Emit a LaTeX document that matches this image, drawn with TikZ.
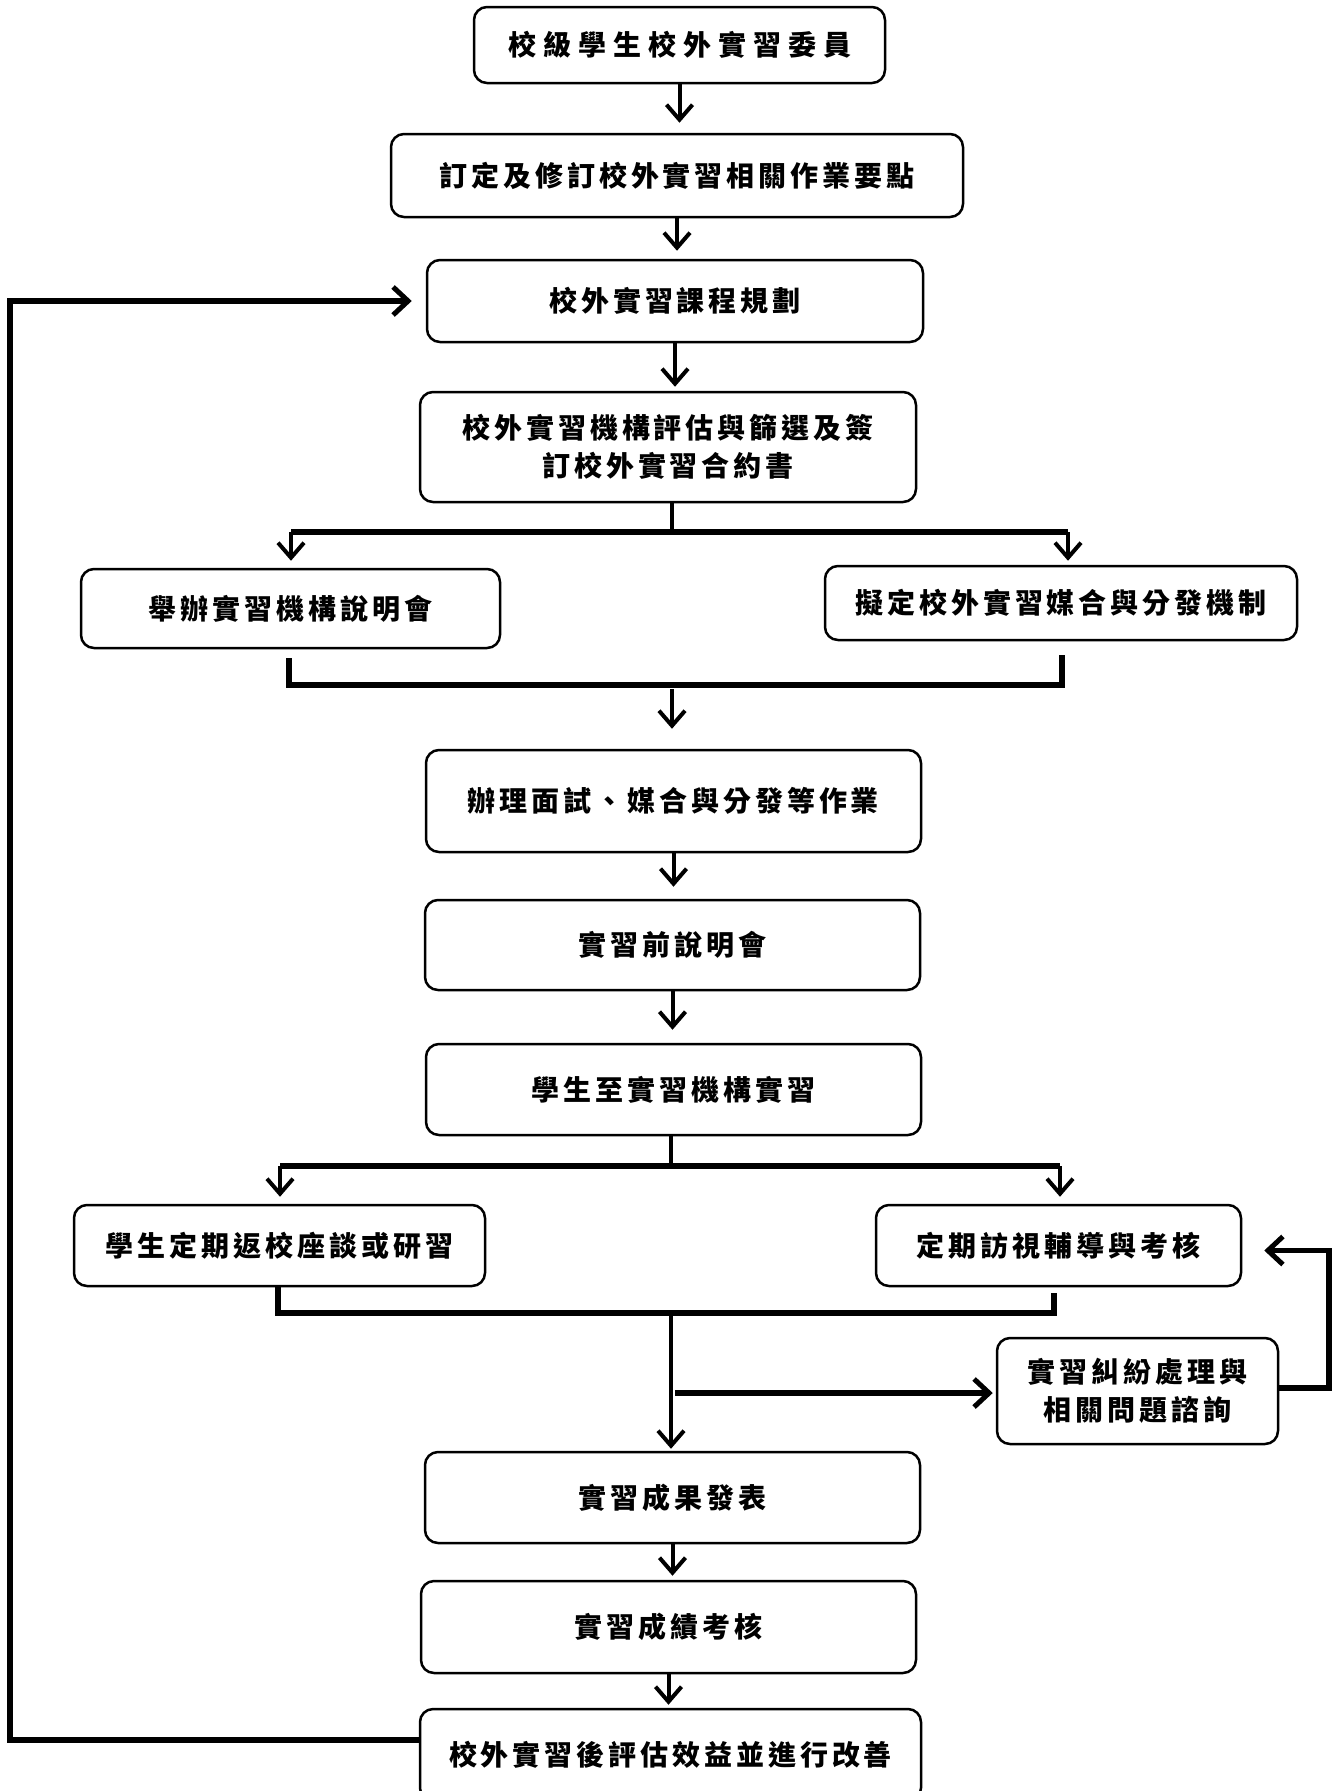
\documentclass[tikz,border=0pt]{standalone}
\usepackage{fontspec}
\newfontfamily\cjk{Noto Sans CJK TC}[LetterSpace=14]
\newfontfamily\cjkwide{Noto Sans CJK TC}[LetterSpace=25]
\usetikzlibrary{arrows.meta}
\begin{document}
\begin{tikzpicture}[x=1pt,y=-1pt,
  box/.style={draw, line width=2.5pt, rounded corners=13pt, fill=white, align=center, inner sep=0pt,
    font=\cjk\bfseries\fontsize{28}{38}\selectfont},
  conn/.style={line width=4pt},
  heavy/.style={line width=5.5pt},
  tipped/.style={-{Straight Barb[length=15pt,width=26pt,line width=4pt]}},
  arr/.style={conn, tipped, shorten >=6pt},
  harr/.style={heavy, -{Straight Barb[length=15pt,width=28pt,line width=5pt]}}
]
\useasboundingbox (0,0) rectangle (1335,1791);
\clip (0,0) rectangle (1335,1791);

% nodes
\node[box, minimum width=411pt, minimum height=76pt, font=\cjkwide\bfseries\fontsize{28}{38}\selectfont] (b1) at (679.5,45) {校級學生校外實習委員};
\node[box, minimum width=572pt, minimum height=83pt] (b2) at (677,175.5) {訂定及修訂校外實習相關作業要點};
\node[box, minimum width=496pt, minimum height=82pt] (b3) at (675,301) {校外實習課程規劃};
\node[box, minimum width=496pt, minimum height=110pt] (b4) at (668,447) {校外實習機構評估與篩選及簽\\訂校外實習合約書};
\node[box, minimum width=419pt, minimum height=79pt] (b5L) at (290.5,608.5) {舉辦實習機構說明會};
\node[box, minimum width=472pt, minimum height=74pt] (b5R) at (1061,603) {擬定校外實習媒合與分發機制};
\node[box, minimum width=495pt, minimum height=102pt] (b6) at (673.5,801) {辦理面試、媒合與分發等作業};
\node[box, minimum width=495pt, minimum height=90pt] (b7) at (672.5,945) {實習前說明會};
\node[box, minimum width=495pt, minimum height=91pt] (b8) at (673.5,1089.5) {學生至實習機構實習};
\node[box, minimum width=411pt, minimum height=81pt] (b9L) at (279.5,1245.5) {學生定期返校座談或研習};
\node[box, minimum width=365pt, minimum height=81pt] (b9R) at (1058.5,1245.5) {定期訪視輔導與考核};
\node[box, minimum width=281pt, minimum height=106pt] (b10) at (1137.5,1391) {實習糾紛處理與\\相關問題諮詢};
\node[box, minimum width=495pt, minimum height=91pt] (b11) at (672.5,1497.5) {實習成果發表};
\node[box, minimum width=495pt, minimum height=92pt] (b12) at (668.5,1627) {實習成績考核};
\node[box, minimum width=501pt, minimum height=92pt] (b13) at (670.5,1755) {校外實習後評估效益並進行改善};

% junction coordinates
\coordinate (s1) at (672,532);
\coordinate (s1L) at (291,532);
\coordinate (s1R) at (1068,532);
\coordinate (m1L) at (289,685);
\coordinate (m1R) at (1062,685);
\coordinate (m1) at (672,689);
\coordinate (s2) at (671,1166);
\coordinate (s2L) at (280,1166);
\coordinate (s2R) at (1060,1166);
\coordinate (m2L) at (278,1313);
\coordinate (m2R) at (1054,1313);
\coordinate (m2) at (671,1313);
\coordinate (br) at (675,1393);
\coordinate (fb) at (1329,1388);
\coordinate (lp) at (10,1740);

% straight arrows
\draw[arr, shorten >=10pt] (b1.south) -- (b1.south |- b2.north);
\draw[arr, shorten >=8pt] (b2.south) -- (b2.south |- b3.north);
\draw[arr, shorten >=4pt] (b3.south) -- (b3.south |- b4.north);
\draw[arr, shorten >=12pt] (b6.south) -- (b6.south |- b7.north);
\draw[arr, shorten >=13pt] (b7.south) -- (b7.south |- b8.north);
\draw[arr, shorten >=4pt] (b11.south) -- (b11.south |- b12.north);
\draw[arr, shorten >=3pt] (b12.south) -- (b12.south |- b13.north);

% first split
\draw[conn] (b4.south -| s1) -- (s1);
\draw[heavy] (s1L) -- (s1R);
\draw[arr, shorten >=7pt] (s1L) -- (s1L |- b5L.north);
\draw[arr, shorten >=4pt] (s1R) -- (s1R |- b5R.north);

% first merge
\draw[heavy] ([yshift=-9pt]b5L.south -| m1L) -- (m1L) -- (m1R) -- ([yshift=-14pt]b5R.south -| m1R);
\draw[arr, shorten >=20pt] (m1) -- (m1 |- b6.north);

% second split
\draw[conn] (b8.south -| s2) -- (s2);
\draw[heavy] (s2L) -- (s2R);
\draw[arr, shorten >=7pt] (s2L) -- (s2L |- b9L.north);
\draw[arr, shorten >=7pt] (s2R) -- (s2R |- b9R.north);

% second merge
\draw[heavy] (b9L.south -| m2L) -- (m2L) -- (m2R) -- ([yshift=-6pt]b9R.south -| m2R);
\draw[arr, shorten >=2pt] (m2) -- (m2 |- b11.north);

% branch to dispute handling
\draw[harr, shorten >=3pt] (br) -- (br -| b10.west);

% feedback to visits
\draw[harr, shorten >=22pt] ([yshift=3pt]b10.east) -- (fb) |- ([yshift=-5pt]b9R.east);

% big loop back to course planning
\draw[harr, shorten >=14pt] ([yshift=15pt]b13.west) -- (lp) |- (b3.west);
\end{tikzpicture}
\end{document}
